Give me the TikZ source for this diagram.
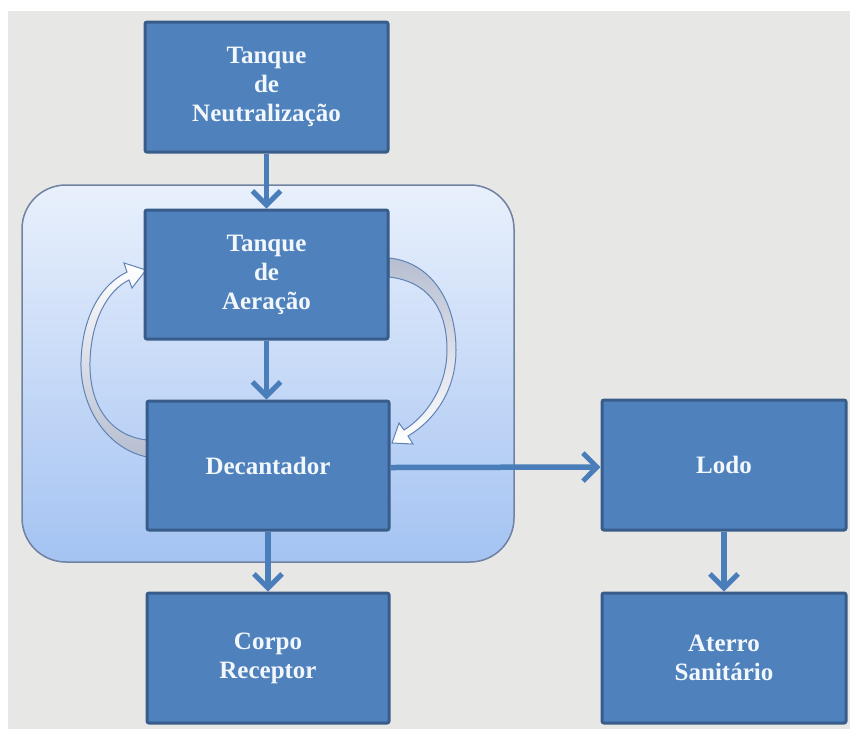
\documentclass[tikz,border=0pt]{standalone}
\usepackage{fontspec}
\setmainfont{Liberation Serif}
\newfontfamily\boxfont{Liberation Serif}
\usetikzlibrary{arrows.meta}
\definecolor{bggray}{RGB}{231,231,229}
\definecolor{boxfill}{RGB}{79,129,189}
\definecolor{boxborder}{RGB}{56,93,138}
\definecolor{arrowblue}{RGB}{74,126,187}
\definecolor{contop}{RGB}{233,240,252}
\definecolor{conbot}{RGB}{164,195,242}
\definecolor{conborder}{RGB}{112,130,162}
\definecolor{curveline}{RGB}{96,130,180}
\definecolor{curvegray}{RGB}{182,190,208}
\definecolor{boxtext}{RGB}{242,247,252}
\tikzset{
  procbox/.style={draw=boxborder, line width=3pt, fill=boxfill, rounded corners=2pt,
    text=boxtext, align=center, font=\boxfont\bfseries\fontsize{25}{29}\selectfont},
  flowarrow/.style={draw=arrowblue, line width=5.5pt,
    -{Straight Barb[length=14pt,width=28pt,line width=5pt]}},
  curvearrow/.style={draw=curveline, line width=1pt}
}
\begin{document}
\begin{tikzpicture}[x=1pt,y=-1pt]
\useasboundingbox (0,0) rectangle (850,729);
\fill[white] (0,0) rectangle (850,729);
\fill[bggray] (8,11) rectangle (850,729);
% container
\shade[top color=contop, bottom color=conbot, draw=conborder, line width=1.5pt, rounded corners=44pt]
  (22,185) rectangle (514,562);
% curved return arrows
\shade[top color=white, bottom color=curvegray, curvearrow]
  (147,457) .. controls (105,448) and (80,405) .. (81,362)
  .. controls (82,318) and (100,285) .. (127,272)
  -- (124,263) -- (146,270) -- (132,288) -- (129,280)
  .. controls (108,290) and (91,320) .. (90,362)
  .. controls (89,405) and (110,436) .. (147,440) -- cycle;
\shade[top color=curvegray, bottom color=white, curvearrow]
  (389,258) .. controls (430,262) and (456,300) .. (456,350)
  .. controls (456,390) and (435,420) .. (408,436)
  -- (413,444) -- (392,443) -- (399,423) -- (404,430)
  .. controls (428,415) and (447,385) .. (447,350)
  .. controls (447,305) and (425,281) .. (389,277) -- cycle;
% boxes
\node[procbox, minimum width=243pt, minimum height=130pt] (neut) at (266.5,87) {Tanque\\de\\Neutralização};
\node[procbox, minimum width=243pt, minimum height=129pt] (aer) at (266.5,274.5) {Tanque\\de\\Aeração};
\node[procbox, minimum width=242pt, minimum height=129pt] (dec) at (268,465.5) {Decantador};
\node[procbox, minimum width=242pt, minimum height=130pt] (corpo) at (268,658) {Corpo\\Receptor};
\node[procbox, minimum width=244pt, minimum height=130pt] (lodo) at (724,465) {Lodo};
\node[procbox, minimum width=244pt, minimum height=130pt] (aterro) at (724,658) {Aterro\\Sanitário};
% arrows
\draw[flowarrow] (neut.south) -- (aer.north);
\draw[flowarrow] (aer.south) -- (aer.south |- dec.north);
\draw[flowarrow] (dec.south) -- (corpo.north);
\draw[flowarrow] ([yshift=-2pt]dec.east) -- ([yshift=-2pt]lodo.west);
\draw[flowarrow] (lodo.south) -- (aterro.north);
\end{tikzpicture}
\end{document}
